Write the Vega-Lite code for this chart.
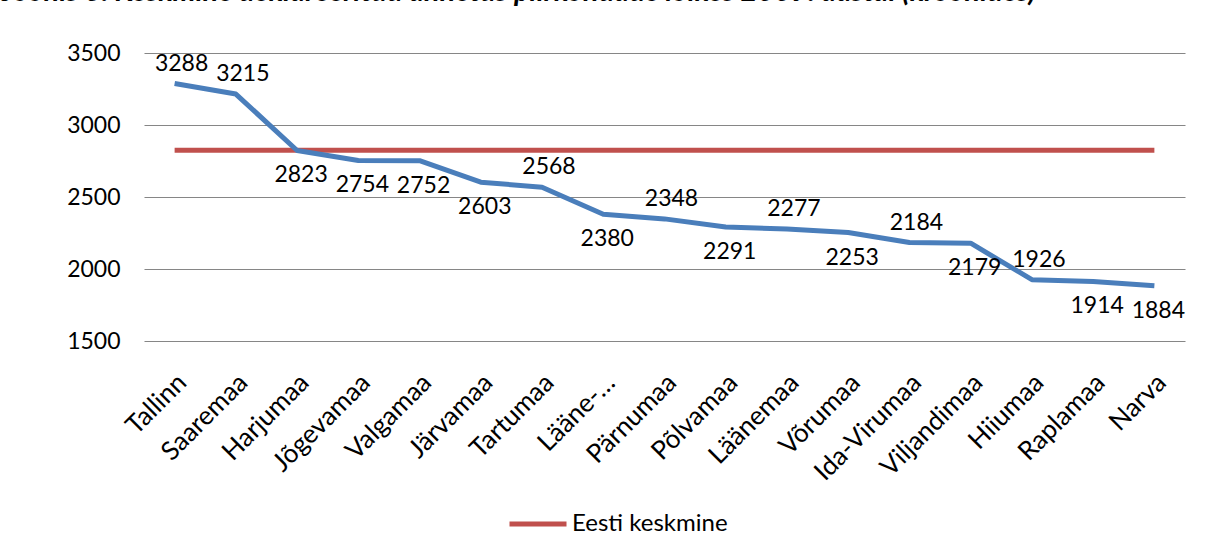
{
  "$schema": "https://vega.github.io/schema/vega-lite/v6.json",
  "autosize": "none",
  "width": 1041,
  "height": 288,
  "padding": {"left": 144, "top": 53, "right": 31, "bottom": 202},
  "background": "white",
  "title": {
    "text": "Joonis 3. Keskmine deklareeritud annetus piirkondade lõikes 2009. aastal (kroonides)",
    "anchor": "start",
    "frame": "group",
    "dx": -142,
    "dy": 23,
    "offset": 35,
    "baseline": "alphabetic",
    "font": "Lato",
    "fontSize": 29,
    "fontWeight": "bold",
    "fontStyle": "italic",
    "color": "black"
  },
  "config": {
    "view": {"stroke": null},
    "font": "Lato",
    "axis": {"labelFont": "Lato", "labelColor": "black"},
    "legend": {"labelFont": "Lato"}
  },
  "datasets": {
    "regions": [
      {"region": "Tallinn", "value": 3288},
      {"region": "Saaremaa", "value": 3215},
      {"region": "Harjumaa", "value": 2823},
      {"region": "Jõgevamaa", "value": 2754},
      {"region": "Valgamaa", "value": 2752},
      {"region": "Järvamaa", "value": 2603},
      {"region": "Tartumaa", "value": 2568},
      {"region": "Lääne-Virumaa", "value": 2380},
      {"region": "Pärnumaa", "value": 2348},
      {"region": "Põlvamaa", "value": 2291},
      {"region": "Läänemaa", "value": 2277},
      {"region": "Võrumaa", "value": 2253},
      {"region": "Ida-Virumaa", "value": 2184},
      {"region": "Viljandimaa", "value": 2179},
      {"region": "Hiiumaa", "value": 1926},
      {"region": "Raplamaa", "value": 1914},
      {"region": "Narva", "value": 1884}
    ],
    "average": [
      {"series": "Eesti keskmine", "value": 2825, "from": "Tallinn", "to": "Narva"}
    ]
  },
  "layer": [
    {
      "data": {"name": "average"},
      "mark": {"type": "rule", "strokeWidth": 5, "strokeCap": "butt"},
      "encoding": {
        "x": {"field": "from", "type": "nominal"},
        "x2": {"field": "to"},
        "y": {"field": "value", "type": "quantitative"},
        "color": {
          "field": "series",
          "type": "nominal",
          "scale": {"domain": ["Eesti keskmine"], "range": ["#C0504D"]},
          "legend": {
            "title": null,
            "orient": "none",
            "legendX": 363,
            "legendY": 440,
            "symbolType": "stroke",
            "symbolSize": 3249,
            "symbolStrokeWidth": 5,
            "symbolStrokeColor": "#C0504D",
            "labelFontSize": 24,
            "labelColor": "black",
            "labelOffset": 3,
            "labelLimit": 400
          }
        }
      }
    },
    {
      "data": {"name": "regions"},
      "mark": {"type": "line", "color": "#4A7EBB", "strokeWidth": 5, "strokeJoin": "round"},
      "encoding": {
        "x": {
          "field": "region",
          "type": "nominal",
          "sort": null,
          "scale": {
            "type": "point",
            "padding": 0.5,
            "domain": ["Tallinn", "Saaremaa", "Harjumaa", "Jõgevamaa", "Valgamaa", "Järvamaa", "Tartumaa", "Lääne-Virumaa", "Pärnumaa", "Põlvamaa", "Läänemaa", "Võrumaa", "Ida-Virumaa", "Viljandimaa", "Hiiumaa", "Raplamaa", "Narva"]
          },
          "axis": {
            "title": null,
            "labelAngle": -45,
            "labelAlign": "right",
            "labelBaseline": "top",
            "labelFontSize": 26,
            "labelPadding": 28,
            "labelOffset": -2,
            "ticks": false,
            "domain": false,
            "grid": false,
            "labelExpr": "datum.label == 'Lääne-Virumaa' ? 'Lääne-…' : datum.label"
          }
        },
        "y": {
          "field": "value",
          "type": "quantitative",
          "scale": {"domain": [1500, 3500], "nice": false, "zero": false},
          "axis": {
            "title": null,
            "values": [1500, 2000, 2500, 3000, 3500],
            "format": "d",
            "labelFontSize": 23,
            "labelPadding": 24,
            "ticks": false,
            "domain": false,
            "gridColor": "#868686",
            "gridWidth": 1.2,
            "gridOpacity": 1
          }
        }
      }
    },
    {
      "data": {"name": "regions"},
      "transform": [{"filter": {"field": "region", "oneOf": ["Tallinn", "Saaremaa", "Tartumaa", "Pärnumaa", "Läänemaa", "Ida-Virumaa", "Hiiumaa"]}}],
      "mark": {"type": "text", "font": "Lato", "fontSize": 23, "color": "black", "dy": -20, "dx": 7, "baseline": "middle"},
      "encoding": {
        "x": {"field": "region", "type": "nominal"},
        "y": {"field": "value", "type": "quantitative"},
        "text": {"field": "value", "type": "quantitative", "format": "d"}
      }
    },
    {
      "data": {"name": "regions"},
      "transform": [{"filter": {"field": "region", "oneOf": ["Harjumaa", "Jõgevamaa", "Valgamaa", "Järvamaa", "Lääne-Virumaa", "Põlvamaa", "Võrumaa", "Viljandimaa", "Raplamaa", "Narva"]}}],
      "mark": {"type": "text", "font": "Lato", "fontSize": 23, "color": "black", "dy": 25, "dx": 4, "baseline": "middle"},
      "encoding": {
        "x": {"field": "region", "type": "nominal"},
        "y": {"field": "value", "type": "quantitative"},
        "text": {"field": "value", "type": "quantitative", "format": "d"}
      }
    }
  ]
}
